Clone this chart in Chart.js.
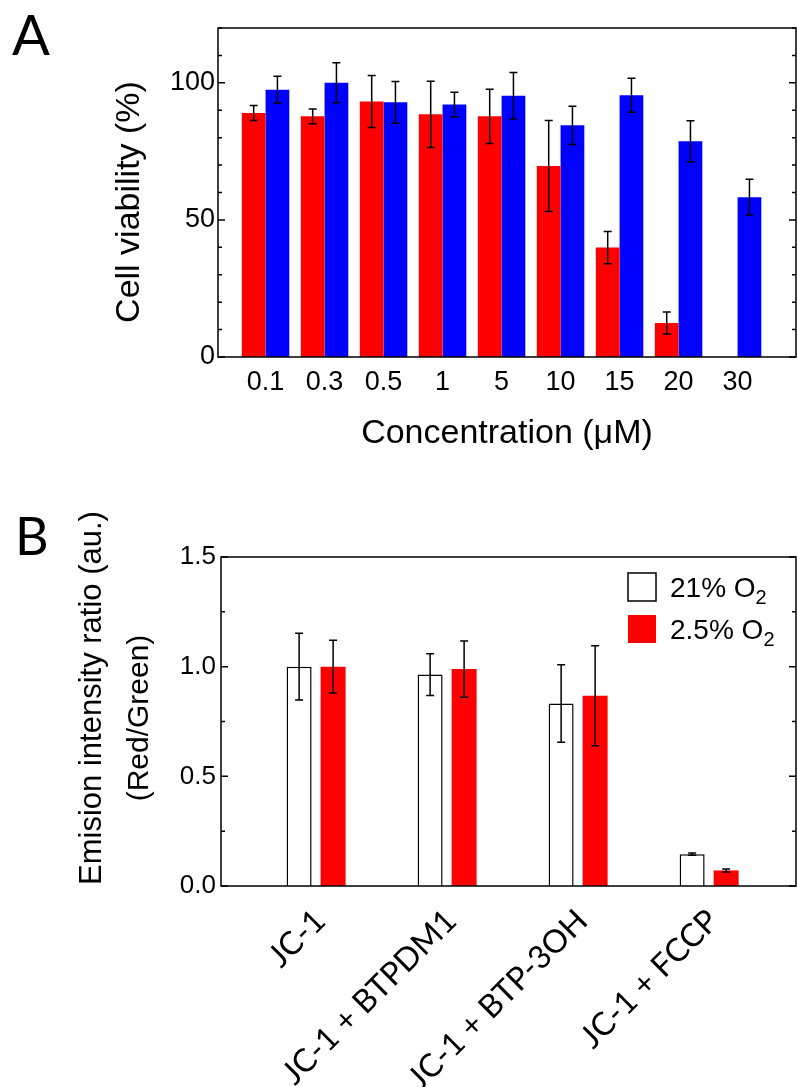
<!DOCTYPE html>
<html>
<head>
<meta charset="utf-8">
<script src="https://cdn.jsdelivr.net/npm/chart.js@4.4.1/dist/chart.umd.min.js"></script>
<style>
  html, body { margin: 0; padding: 0; background: #fff; }
  #wrap { position: relative; width: 797px; height: 1087px; overflow: hidden; background: #fff; }
  canvas { position: absolute; left: 0; }
  #chartA { top: 0; }
  #chartB { top: 480px; }
</style>
</head>
<body>
<div id="wrap">
  <canvas id="chartA" width="797" height="470"></canvas>
  <canvas id="chartB" width="797" height="607"></canvas>
</div>
<script>
// Painel A - viabilidade celular
const concLabels = ['0.1', '0.3', '0.5', '1', '5', '10', '15', '20', '30'];
const redViability = [89.0, 87.8, 93.2, 88.5, 87.8, 69.7, 39.9, 12.4, null];
const redErr = [2.7, 2.7, 9.5, 12.1, 9.9, 16.6, 5.9, 4.0, null];
const blueViability = [97.5, 100.0, 92.9, 92.1, 95.3, 84.5, 95.5, 78.7, 58.3];
const blueErr = [4.9, 7.3, 7.6, 4.5, 8.5, 7.0, 6.2, 7.5, 6.5];
const yTicksA = [0, 50, 100];

// Painel B - razao de emissao JC-1
const groupLabels = ['JC-1', 'JC-1 + BTPDM1', 'JC-1 + BTP-3OH', 'JC-1 + FCCP'];
const ratio21 = [1.0, 0.964, 0.832, 0.145];
const err21 = [0.152, 0.095, 0.177, 0.005];
const ratio25 = [1.0, 0.989, 0.867, 0.071];
const err25 = [0.12, 0.128, 0.228, 0.007];
const yTicksB = [0, 0.5, 1.0, 1.5];
const legendB = [{ text: '21% O', sub: '2' }, { text: '2.5% O', sub: '2' }];

const ARIAL = "'Liberation Sans', Arial, sans-serif";
const CALIBRI = "Lato, 'Open Sans', sans-serif";

const toPoints = vals => vals.map((v, i) => ({ x: i + 1, y: v }));

// barras de erro desenhadas sobre cada barra
const errorBars = {
  id: 'errorBars',
  afterDatasetsDraw(chart) {
    const { ctx } = chart;
    const y = chart.scales.y;
    const cap = 4;
    chart.data.datasets.forEach((ds, di) => {
      if (!ds.errors) return;
      chart.getDatasetMeta(di).data.forEach((bar, i) => {
        const v = ds.data[i].y, e = ds.errors[i];
        if (v == null || e == null) return;
        const top = y.getPixelForValue(v + e);
        const bot = y.getPixelForValue(v - e);
        ctx.save();
        ctx.strokeStyle = '#000';
        ctx.lineWidth = 1.5;
        ctx.beginPath();
        ctx.moveTo(bar.x, top); ctx.lineTo(bar.x, bot);
        ctx.moveTo(bar.x - cap, top); ctx.lineTo(bar.x + cap, top);
        ctx.moveTo(bar.x - cap, bot); ctx.lineTo(bar.x + cap, bot);
        ctx.stroke();
        ctx.restore();
      });
    });
  }
};

// moldura + ticks internos nos dois lados
const frame = {
  id: 'frame',
  afterDraw(chart, args, opts) {
    const { ctx, chartArea: a } = chart;
    const y = chart.scales.y;
    ctx.save();
    ctx.strokeStyle = '#000';
    ctx.lineWidth = 1.5;
    ctx.strokeRect(a.left, a.top, a.width, a.height);
    ctx.beginPath();
    const n = Math.round((y.max - y.min) / opts.minorStep);
    for (let k = 0; k <= n; k++) {
      const v = y.min + k * opts.minorStep;
      const py = y.getPixelForValue(v);
      const major = opts.major.some(m => Math.abs(m - v) < 1e-9);
      const len = major ? 7 : 4;
      ctx.moveTo(a.left, py); ctx.lineTo(a.left + len, py);
      ctx.moveTo(a.right, py); ctx.lineTo(a.right - len, py);
    }
    ctx.stroke();
    ctx.restore();
  }
};

// textos livres (letra do painel, titulos de eixo y, legenda)
const extraText = {
  id: 'extraText',
  afterDraw(chart, args, opts) {
    const { ctx } = chart;
    (opts.items || []).forEach(t => {
      ctx.save();
      ctx.fillStyle = '#000';
      ctx.font = t.font;
      ctx.textAlign = t.align || 'left';
      ctx.textBaseline = t.baseline || 'alphabetic';
      ctx.translate(t.x, t.y);
      if (t.rot) ctx.rotate(t.rot);
      ctx.fillText(t.text, 0, 0);
      ctx.restore();
    });
    (opts.legend || []).forEach(l => {
      ctx.save();
      ctx.fillStyle = l.fill;
      ctx.fillRect(l.x, l.y, l.size, l.size);
      if (l.stroke) {
        ctx.strokeStyle = l.stroke;
        ctx.lineWidth = 1.5;
        ctx.strokeRect(l.x, l.y, l.size, l.size);
      }
      ctx.fillStyle = '#000';
      ctx.textBaseline = 'alphabetic';
      ctx.font = '28px ' + ARIAL;
      const base = l.y + l.size / 2 + 10;
      ctx.fillText(l.label.text, l.x + 42, base);
      const w = ctx.measureText(l.label.text).width;
      ctx.font = '20px ' + ARIAL;
      ctx.fillText(l.label.sub, l.x + 42 + w, base + 7);
      ctx.restore();
    });
  }
};

function intTicks(labels) {
  return s => { s.ticks = labels.map((_, i) => ({ value: i + 1 })); };
}

// ---------- painel A ----------
new Chart(document.getElementById('chartA'), {
  type: 'bar',
  data: {
    datasets: [
      { label: 'red', data: toPoints(redViability), errors: redErr, backgroundColor: '#ff0000', borderWidth: 0 },
      { label: 'blue', data: toPoints(blueViability), errors: blueErr, backgroundColor: '#0000ff', borderWidth: 0 }
    ]
  },
  options: {
    responsive: false,
    animation: false,
    layout: { padding: { top: 28, right: 1, left: 0, bottom: 0 } },
    categoryPercentage: 0.805,
    barPercentage: 1.0,
    scales: {
      x: {
        type: 'linear',
        offset: false,
        min: 0.194,
        max: 9.99,
        afterBuildTicks: intTicks(concLabels),
        afterFit: s => { s.height = 113; },
        grid: { display: false, drawTicks: false, offset: false },
        border: { display: false },
        ticks: {
          autoSkip: false, maxRotation: 0, padding: 9, color: '#000',
          font: { family: ARIAL, size: 27 },
          callback: (v, i) => concLabels[i]
        },
        title: {
          display: true, text: 'Concentration (\u03bcM)', color: '#000',
          font: { family: ARIAL, size: 34 }, padding: { top: 0, bottom: 16 }
        }
      },
      y: {
        min: 0,
        max: 120,
        afterBuildTicks: s => { s.ticks = yTicksA.map(v => ({ value: v })); },
        afterFit: s => { s.width = 218; },
        grid: { display: false, drawTicks: false },
        border: { display: false },
        ticks: { padding: 3, color: '#000', font: { family: ARIAL, size: 27 } }
      }
    },
    plugins: {
      legend: { display: false },
      tooltip: { enabled: false },
      frame: { minorStep: 10, major: yTicksA },
      extraText: {
        items: [
          { text: 'A', x: 12, y: 55, font: '56px ' + CALIBRI },
          { text: 'Cell viability (%)', x: 130, y: 202, rot: -Math.PI / 2, align: 'center', baseline: 'middle', font: '34px ' + ARIAL }
        ]
      }
    }
  },
  plugins: [errorBars, frame, extraText]
});

// ---------- painel B ----------
new Chart(document.getElementById('chartB'), {
  type: 'bar',
  data: {
    datasets: [
      { label: '21% O\u2082', data: toPoints(ratio21), errors: err21, backgroundColor: '#ffffff', borderColor: '#000', borderWidth: 1.5 },
      { label: '2.5% O\u2082', data: toPoints(ratio25), errors: err25, backgroundColor: '#ff0000', borderWidth: 0 }
    ]
  },
  options: {
    responsive: false,
    animation: false,
    layout: { padding: { top: 77, right: 1, left: 0, bottom: 0 } },
    categoryPercentage: 0.519,
    barPercentage: 0.735,
    scales: {
      x: {
        type: 'linear',
        offset: false,
        min: 0.274,
        max: 4.663,
        afterBuildTicks: intTicks(groupLabels),
        afterFit: s => { s.height = 201; },
        grid: { display: false, drawTicks: false, offset: false },
        border: { display: false },
        ticks: {
          autoSkip: false, minRotation: 45, maxRotation: 45, padding: 16, labelOffset: 4, color: '#000',
          font: { family: CALIBRI, size: 32 },
          callback: (v, i) => groupLabels[i]
        }
      },
      y: {
        min: 0,
        max: 1.5,
        afterBuildTicks: s => { s.ticks = yTicksB.map(v => ({ value: v })); },
        afterFit: s => { s.width = 221; },
        grid: { display: false, drawTicks: false },
        border: { display: false },
        ticks: {
          padding: 5, color: '#000', font: { family: ARIAL, size: 26 },
          callback: v => v.toFixed(1)
        }
      }
    },
    plugins: {
      legend: { display: false },
      tooltip: { enabled: false },
      frame: { minorStep: 0.25, major: yTicksB },
      extraText: {
        items: [
          { text: 'B', x: 15, y: 75, font: '52px ' + CALIBRI },
          { text: 'Emision intensity ratio (au.)', x: 92, y: 218, rot: -Math.PI / 2, align: 'center', baseline: 'middle', font: '31px ' + ARIAL },
          { text: '(Red/Green)', x: 140, y: 238, rot: -Math.PI / 2, align: 'center', baseline: 'middle', font: '30px ' + ARIAL }
        ],
        legend: [
          { x: 628, y: 93, size: 28, fill: '#ffffff', stroke: '#000', label: legendB[0] },
          { x: 628, y: 135, size: 28, fill: '#ff0000', label: legendB[1] }
        ]
      }
    }
  },
  plugins: [errorBars, frame, extraText]
});
</script>
</body>
</html>
